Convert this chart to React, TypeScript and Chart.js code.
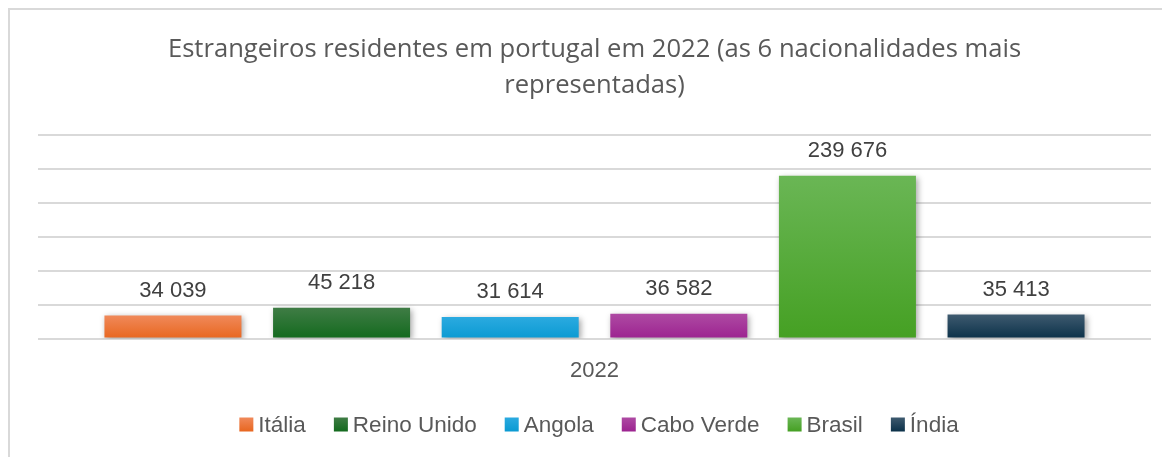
import React, { useEffect, useRef } from "react";
import { Chart, registerables } from "chart.js";

Chart.register(...registerables);

const categories = ["2022"];
const seriesNames = ["Itália", "Reino Unido", "Angola", "Cabo Verde", "Brasil", "Índia"];
const seriesValues = [34039, 45218, 31614, 36582, 239676, 35413];
const seriesTop = ["#F0895A", "#3F7C45", "#2BAAE0", "#AE4AA3", "#6AB655", "#3E5A6F"];
const seriesBottom = ["#E8661F", "#136A1E", "#0A9AD2", "#9C2390", "#45A023", "#0B3149"];
const seriesSolid = ["#E97132", "#196B24", "#0F9ED5", "#A02B93", "#4EA72E", "#0E2841"];
const titleLines = ["Estrangeiros residentes em portugal em 2022 (as 6 nacionalidades mais", "representadas)"];

const fmt = (v: number) => String(v).replace(/\B(?=(\d{3})+(?!\d))/g, " ");

const shadowPlugin = {
  id: "barShadow",
  beforeDatasetsDraw(chart: any) {
    const ctx = chart.ctx;
    ctx.save();
    ctx.shadowColor = "rgba(0,0,0,0.35)";
    ctx.shadowBlur = 6;
    ctx.shadowOffsetX = 2;
    ctx.shadowOffsetY = 2;
  },
  afterDatasetsDraw(chart: any) {
    chart.ctx.restore();
  },
};

const labelPlugin = {
  id: "valueLabels",
  afterDraw(chart: any) {
    const ctx = chart.ctx;
    ctx.save();
    ctx.font = "22px 'Liberation Sans', Arial, sans-serif";
    ctx.fillStyle = "#404040";
    ctx.textAlign = "center";
    ctx.textBaseline = "middle";
    chart.data.datasets.forEach((ds: any, i: number) => {
      const meta = chart.getDatasetMeta(i);
      meta.data.forEach((bar: any, j: number) => {
        ctx.fillText(fmt(ds.data[j]), bar.x, bar.y - 25);
      });
    });
    ctx.restore();
  },
};

const legendPlugin = {
  id: "bottomLegend",
  afterDraw(chart: any) {
    const ctx = chart.ctx;
    const boxW = 14;
    const boxH = 14;
    const gapText = 5;
    const gapItem = 28;
    ctx.save();
    ctx.font = "22.5px 'Liberation Sans', Arial, sans-serif";
    const widths = seriesNames.map((n) => ctx.measureText(n).width);
    const total =
      widths.reduce((a, w) => a + boxW + gapText + w, 0) + gapItem * (seriesNames.length - 1);
    const ca = chart.chartArea;
    let x = (ca.left + ca.right) / 2 - total / 2 + 4.5;
    const yc = 414.5;
    seriesNames.forEach((n, i) => {
      const g = ctx.createLinearGradient(0, yc - boxH / 2, 0, yc + boxH / 2);
      g.addColorStop(0, seriesTop[i]);
      g.addColorStop(1, seriesBottom[i]);
      ctx.fillStyle = g;
      ctx.fillRect(x, yc - boxH / 2, boxW, boxH);
      x += boxW + gapText;
      ctx.fillStyle = "#595959";
      ctx.textAlign = "left";
      ctx.textBaseline = "middle";
      ctx.fillText(n, x, yc + 1);
      x += widths[i] + gapItem;
    });
    ctx.restore();
  },
};

export default function App() {
  const ref = useRef<HTMLCanvasElement>(null);
  useEffect(() => {
    if (!ref.current) return;
    const datasets = seriesNames.map((name, i) => ({
      label: name,
      data: [seriesValues[i]],
      backgroundColor: (c: any) => {
        const chart = c.chart;
        const ys = chart.scales && chart.scales.y;
        if (!ys || c.type !== "data") return seriesSolid[i];
        const top = ys.getPixelForValue(seriesValues[i]);
        const bottom = ys.getPixelForValue(0);
        if (!isFinite(top) || !isFinite(bottom) || top === bottom) return seriesSolid[i];
        const g = chart.ctx.createLinearGradient(0, top, 0, bottom);
        g.addColorStop(0, seriesTop[i]);
        g.addColorStop(1, seriesBottom[i]);
        return g;
      },
      borderWidth: 0,
      barPercentage: 0.8125,
      categoryPercentage: 0.909,
    }));
    const chart = new Chart(ref.current, {
      type: "bar",
      data: { labels: categories, datasets },
      plugins: [shadowPlugin, labelPlugin, legendPlugin],
      options: {
        animation: false,
        responsive: true,
        maintainAspectRatio: false,
        layout: { padding: { top: 22, left: 28, right: 19, bottom: 62 } },
        plugins: {
          title: {
            display: true,
            text: titleLines,
            color: "#595959",
            font: { family: "'Open Sans', sans-serif", size: 25.6, weight: "normal", lineHeight: 1.4 },
            padding: { top: 0, bottom: 31 },
          },
          legend: { display: false },
          tooltip: { enabled: false },
        },
        scales: {
          x: {
            grid: { display: false },
            border: { display: false },
            ticks: {
              color: "#595959",
              padding: 11,
              font: { family: "'Liberation Sans', Arial, sans-serif", size: 22 },
            },
          },
          y: {
            min: 0,
            max: 300000,
            ticks: { display: false, stepSize: 50000 },
            grid: { color: "#D9D9D9", lineWidth: 2, drawTicks: false },
            border: { display: false },
          },
        },
      },
    });
    return () => chart.destroy();
  }, []);
  return (
    <div
      style={{
        borderLeft: "2px solid #D9D9D9",
        borderTop: "2px solid #D9D9D9",
        width: 1160,
        height: 447,
        position: "relative",
        background: "#fff",
      }}
    >
      <canvas ref={ref} />
    </div>
  );
}
